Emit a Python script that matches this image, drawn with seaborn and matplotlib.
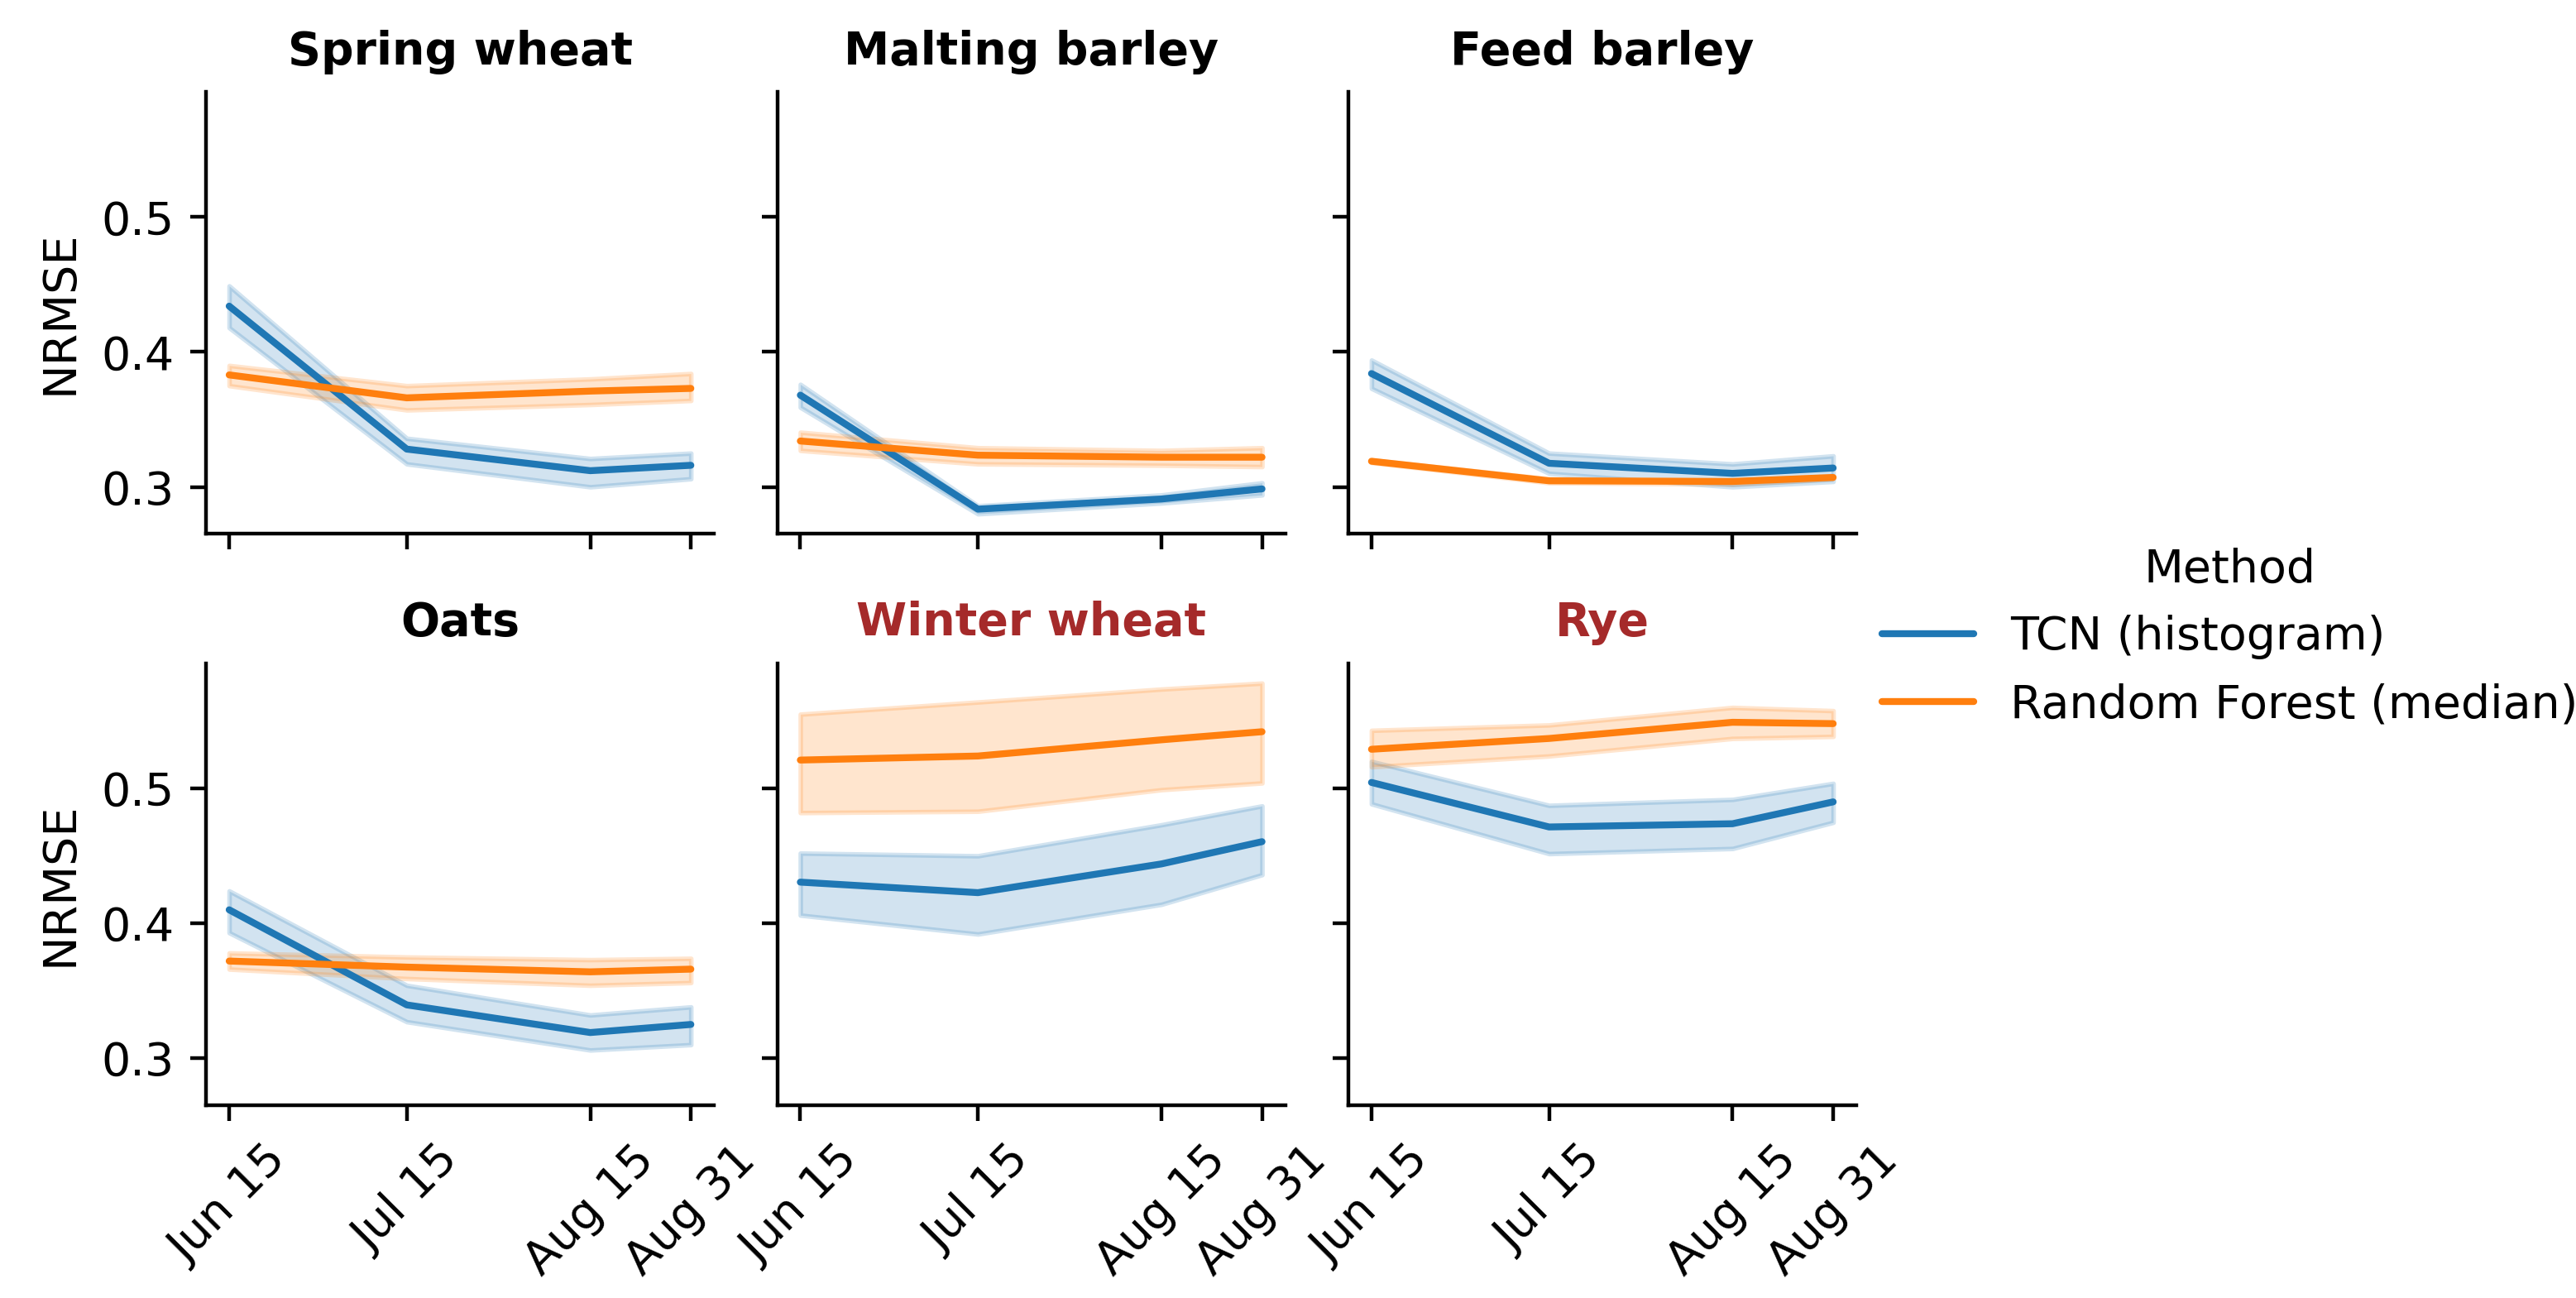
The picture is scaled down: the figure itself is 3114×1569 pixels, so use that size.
import pandas as pd
import seaborn as sns
import matplotlib.pyplot as plt

crops = ["Spring wheat", "Malting barley", "Feed barley", "Oats", "Winter wheat", "Rye"]
# day of year for each prediction date
dates = [166, 196, 227, 244]
date_labels = ["Jun 15", "Jul 15", "Aug 15", "Aug 31"]
methods = ["TCN (histogram)", "Random Forest (median)"]

# TCN (histogram): line value and band limits, one row per crop
tcn_mid = [[0.434, 0.328, 0.312, 0.316],
           [0.368, 0.2835, 0.291, 0.2985],
           [0.384, 0.3175, 0.310, 0.314],
           [0.410, 0.3395, 0.319, 0.325],
           [0.4305, 0.4227, 0.444, 0.4605],
           [0.5044, 0.4714, 0.4738, 0.490]]
tcn_lo = [[0.418, 0.317, 0.300, 0.306],
          [0.359, 0.280, 0.288, 0.294],
          [0.373, 0.310, 0.300, 0.304],
          [0.393, 0.327, 0.306, 0.310],
          [0.406, 0.392, 0.414, 0.436],
          [0.4885, 0.4516, 0.4554, 0.4748]]
tcn_hi = [[0.449, 0.336, 0.321, 0.325],
          [0.376, 0.286, 0.294, 0.303],
          [0.394, 0.325, 0.317, 0.323],
          [0.424, 0.354, 0.332, 0.338],
          [0.452, 0.450, 0.473, 0.487],
          [0.520, 0.4874, 0.4918, 0.5037]]

# Random Forest (median)
rf_mid = [[0.383, 0.366, 0.371, 0.373],
          [0.334, 0.3235, 0.322, 0.322],
          [0.319, 0.3045, 0.304, 0.307],
          [0.372, 0.3675, 0.364, 0.366],
          [0.521, 0.524, 0.536, 0.542],
          [0.529, 0.537, 0.549, 0.548]]
rf_lo = [[0.375, 0.357, 0.361, 0.364],
         [0.327, 0.317, 0.316, 0.315],
         [0.318, 0.303, 0.302, 0.306],
         [0.366, 0.359, 0.354, 0.356],
         [0.482, 0.483, 0.499, 0.504],
         [0.516, 0.524, 0.537, 0.5385]]
rf_hi = [[0.390, 0.375, 0.380, 0.384],
         [0.3405, 0.329, 0.327, 0.329],
         [0.320, 0.306, 0.305, 0.308],
         [0.378, 0.375, 0.373, 0.374],
         [0.555, 0.564, 0.5736, 0.578],
         [0.543, 0.547, 0.560, 0.5576]]

highlight = ["Winter wheat", "Rye"]

# long table: three values per point, median gives the line, min/max the band
rows = []
for method, mid, lo, hi in [(methods[0], tcn_mid, tcn_lo, tcn_hi),
                            (methods[1], rf_mid, rf_lo, rf_hi)]:
    for c, crop in enumerate(crops):
        for d, date in enumerate(dates):
            for v in (lo[c][d], mid[c][d], hi[c][d]):
                rows.append({"Crop": crop, "Date": date, "Method": method, "NRMSE": v})
df = pd.DataFrame(rows)

sns.set_style("ticks", rc={"text.color": "black", "axes.labelcolor": "black",
                           "axes.edgecolor": "black", "xtick.color": "black",
                           "ytick.color": "black"})

g = sns.relplot(data=df, x="Date", y="NRMSE", hue="Method", col="Crop",
                col_wrap=3, kind="line", estimator="median",
                errorbar=("pi", 100), hue_order=methods, col_order=crops,
                height=2, aspect=1.1)
g.set_titles("{col_name}", fontweight="bold", size=10)
g.set_axis_labels("", "NRMSE")
for ax in g.axes.flat:
    ax.set_xticks(dates, date_labels, rotation=45)
    ax.set_yticks([0.3, 0.4, 0.5])
    if ax.get_title() in highlight:
        ax.title.set_color("brown")

fig = g.figure
fig.set_size_inches(7.785, 3.9225)
fig.subplots_adjust(left=0.08, right=0.7206, top=0.9293, bottom=0.1485,
                    wspace=0.1246, hspace=0.292)
sns.move_legend(g, "center left", bbox_to_anchor=(0.7144, 0.509), frameon=False)

fig.savefig("out.png", dpi=400)
